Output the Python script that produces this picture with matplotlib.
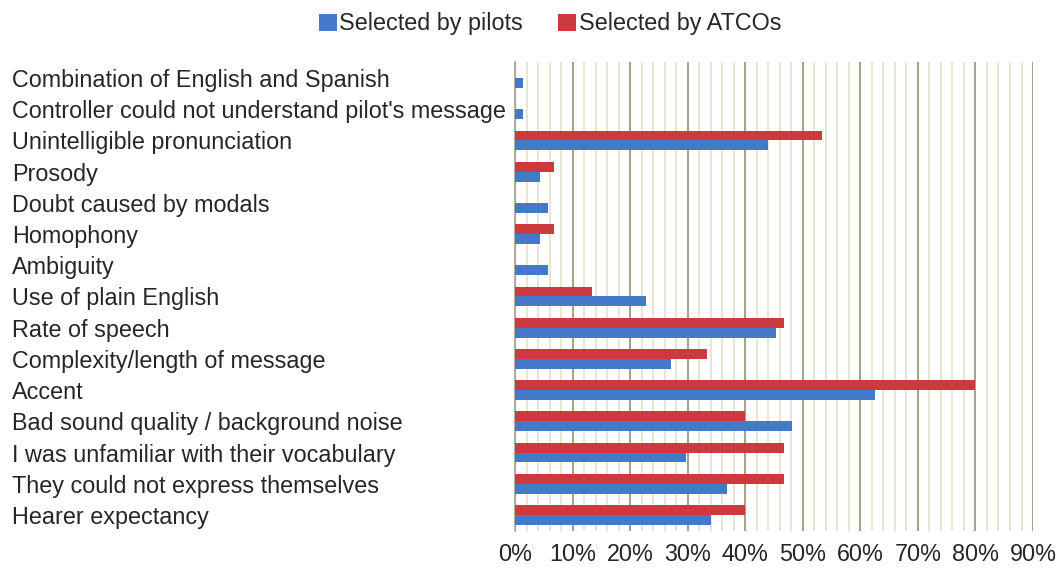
import numpy as np
import matplotlib.pyplot as plt
from matplotlib.ticker import MultipleLocator, FuncFormatter

plt.rcParams['font.family'] = ['Liberation Sans', 'DejaVu Sans']

categories = [
    'Combination of English and Spanish',
    "Controller could not understand pilot's message",
    'Unintelligible pronunciation',
    'Prosody',
    'Doubt caused by modals',
    'Homophony',
    'Ambiguity',
    'Use of plain English',
    'Rate of speech',
    'Complexity/length of message',
    'Accent',
    'Bad sound quality / background noise',
    'I was unfamiliar with their vocabulary',
    'They could not express themselves',
    'Hearer expectancy',
]

# percentages
pilots = [1.4, 1.4, 43.9, 4.3, 5.7, 4.3, 5.7, 22.7, 45.4, 27.1, 62.5, 48.1, 29.7, 36.8, 34.1]
atcos = [0, 0, 53.3, 6.7, 0, 6.7, 0, 13.3, 46.7, 33.3, 80.0, 40.0, 46.7, 46.7, 40.0]

blue = '#4479c9'
red = '#cc3a3d'
text_color = '#262626'
fs = 16.8

fig = plt.figure(figsize=(10.63, 5.68), dpi=100)
ax = fig.add_axes([0.4845, 0.066, 0.4873, 0.824])

y = np.arange(len(categories))
h = 0.32
ax.barh(y - h / 2, atcos, height=h, color=red, label='Selected by ATCOs', zorder=3)
ax.barh(y + h / 2, pilots, height=h, color=blue, label='Selected by pilots', zorder=3)

ax.set_xlim(0, 90)
ax.set_ylim(len(categories) - 0.5, -0.5)

# vertical gridlines: major every 10%, minor every 2%
ax.xaxis.set_major_locator(MultipleLocator(10))
ax.xaxis.set_minor_locator(MultipleLocator(2))
ax.xaxis.set_major_formatter(FuncFormatter(lambda v, p: f'{v:.0f}%'))
ax.grid(axis='x', which='major', color='#a5a38b', linewidth=1.5, zorder=1)
ax.grid(axis='x', which='minor', color='#e4e0cc', linewidth=1.2, zorder=0)
ax.tick_params(axis='x', which='both', length=0, pad=9, labelsize=fs, labelcolor=text_color)

ax.set_yticks(y)
ax.set_yticklabels(categories, ha='left')
ax.tick_params(axis='y', length=0, pad=362, labelsize=fs, labelcolor=text_color)

for s in ['top', 'right', 'bottom']:
    ax.spines[s].set_visible(False)
ax.spines['left'].set_color('#a5a38b')
ax.spines['left'].set_linewidth(1.2)

handles, labels = ax.get_legend_handles_labels()
fig.legend(handles[::-1], labels[::-1], loc='center', bbox_to_anchor=(0.5175, 0.958),
           ncol=2, frameon=False, fontsize=fs, handlelength=0.75, handleheight=0.75,
           handletextpad=0.12, columnspacing=1.5, labelcolor=text_color)

fig.savefig('out.png', dpi=100)
